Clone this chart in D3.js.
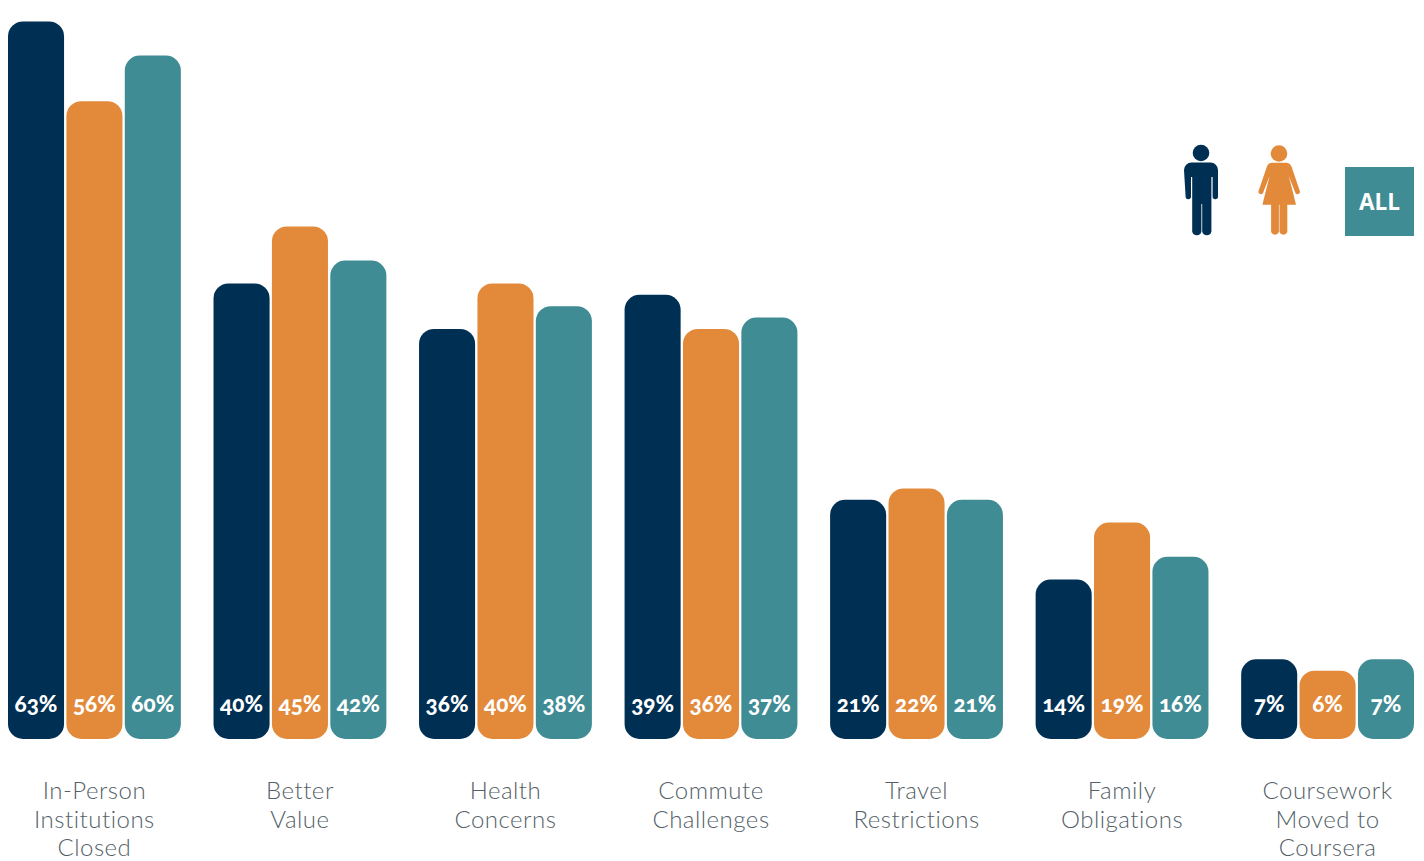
<!DOCTYPE html>
<html>
<head>
<meta charset="utf-8">
<script src="https://cdn.jsdelivr.net/npm/d3@7/dist/d3.min.js"></script>
<style>
  html, body { margin: 0; padding: 0; background: #fff; }
  svg { display: block; }
  .value { font-family: Lato, "Open Sans", sans-serif; font-weight: 900; font-size: 22.5px; fill: #fff; font-variant-numeric: oldstyle-nums; font-feature-settings: "onum" 1; }
  .category { font-family: Lato, "Open Sans", sans-serif; font-weight: 300; font-size: 24px; letter-spacing: 0.5px; fill: #545f68; }
  .key { font-family: "Open Sans", sans-serif; font-weight: 700; font-size: 22.5px; fill: #fff; }
</style>
</head>
<body>
<svg id="chart" width="1424" height="861"></svg>
<script>
const categories = [
  ["In-Person", "Institutions", "Closed"],
  ["Better", "Value"],
  ["Health", "Concerns"],
  ["Commute", "Challenges"],
  ["Travel", "Restrictions"],
  ["Family", "Obligations"],
  ["Coursework", "Moved to", "Coursera"]
];
const seriesNames = ["Men", "Women", "All"];
const men   = [63, 40, 36, 39, 21, 14, 7];
const women = [56, 45, 40, 36, 22, 19, 6];
const all   = [60, 42, 38, 37, 21, 16, 7];
const colors = ["#002f54", "#e3893a", "#3f8c94"];

const series = [men, women, all];
const baseline = 739;
const svg = d3.select("#chart");

const x0 = d3.scaleBand().domain(d3.range(categories.length)).range([8, 1414]).paddingInner(0.159);
const x1 = d3.scaleBand().domain(seriesNames).range([0, x0.bandwidth()]).paddingInner(0.04);
const y = d3.scaleLinear().domain([0, 64]).range([baseline, 10]);
const color = d3.scaleOrdinal().domain(seriesNames).range(colors);

const groups = svg.selectAll("g.group")
  .data(categories)
  .join("g")
  .attr("class", "group")
  .attr("transform", (d, i) => `translate(${x0(i)},0)`);

const cells = groups.selectAll("g.cell")
  .data((d, i) => seriesNames.map((name, s) => ({ name, value: series[s][i] })))
  .join("g")
  .attr("class", "cell");

cells.append("rect")
  .attr("x", d => x1(d.name))
  .attr("y", d => y(d.value))
  .attr("width", x1.bandwidth())
  .attr("height", d => baseline - y(d.value))
  .attr("rx", 15)
  .attr("fill", d => color(d.name));

cells.append("text")
  .attr("class", "value")
  .attr("x", d => x1(d.name) + x1.bandwidth() / 2)
  .attr("y", 712)
  .attr("text-anchor", "middle")
  .text(d => d.value + "%");

// Category captions, one tspan per line
groups.append("text")
  .attr("class", "category")
  .attr("text-anchor", "middle")
  .selectAll("tspan")
  .data(d => d)
  .join("tspan")
  .attr("x", x0.bandwidth() / 2)
  .attr("y", (d, i) => 799 + i * 28.5)
  .text(d => d);

// Key: man figure
const man = svg.append("g").attr("fill", colors[0]);
man.append("circle").attr("cx", 1201).attr("cy", 153).attr("r", 8.3);
man.append("path").attr("d",
  "M1184 170a7.5 7.5 0 0 1 7.5-7.5h19a7.5 7.5 0 0 1 7.5 7.5v26.5a2.7 2.7 0 0 1-5.4 0V177h-1.2V231.5a4.7 4.7 0 0 1-9.2 0V204h-.8V231.5a4.7 4.7 0 0 1-9.2 0V177h-1.2v19.5a2.7 2.7 0 0 1-5.4 0Z");

// Key: woman figure
const woman = svg.append("g").attr("fill", colors[1]);
woman.append("circle").attr("cx", 1279).attr("cy", 153.5).attr("r", 8.3);
woman.append("path").attr("d",
  "M1272 162.7h14a6 6 0 0 1 5.5 3.8l8.3 24.5a2.4 2.4 0 0 1-4.6 1.6l-6.4-16.5 7.2 28.6h-8.7V232a4.2 4.2 0 0 1-7.8 0V204.7h-.6V232a4.2 4.2 0 0 1-7.8 0V204.7h-8.7l7.2-28.6-6.4 16.5a2.4 2.4 0 0 1-4.6-1.6l8.3-24.5a6 6 0 0 1 5.1-3.8Z");

// Key: "ALL" tile
svg.append("rect").attr("x", 1345).attr("y", 167).attr("width", 69).attr("height", 69).attr("fill", colors[2]);
svg.append("text").attr("class", "key").attr("x", 1379.5).attr("y", 209.5).attr("text-anchor", "middle").text("ALL");
</script>
</body>
</html>
